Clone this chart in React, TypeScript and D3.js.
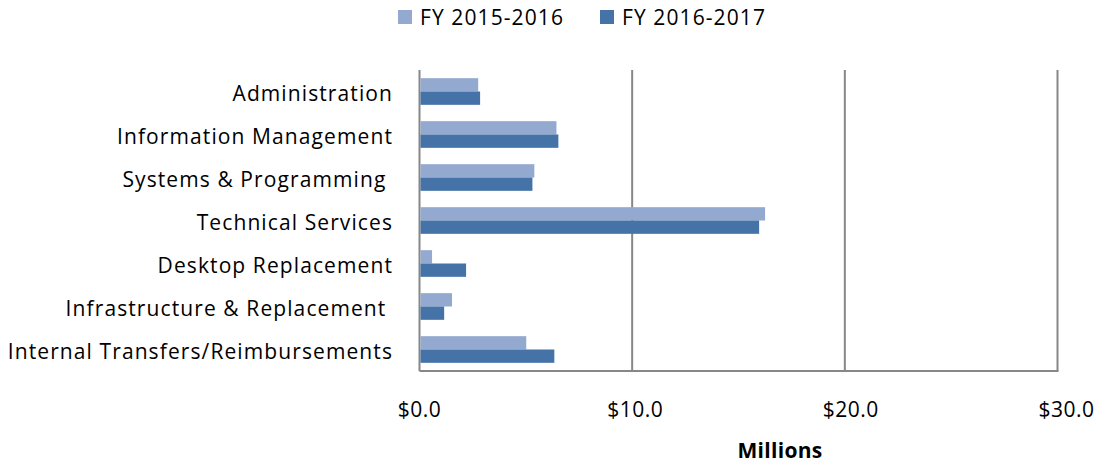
import React from 'react'
import * as d3 from 'd3';

// data (millions of dollars)
const categories = [
  "Administration",
  "Information Management",
  "Systems & Programming ",
  "Technical Services",
  "Desktop Replacement",
  "Infrastructure & Replacement ",
  "Internal Transfers/Reimbursements",
];
const seriesNames = ["FY 2015-2016", "FY 2016-2017"];
const fy2016 = [2.76, 6.44, 5.40, 16.25, 0.59, 1.53, 5.02];
const fy2017 = [2.85, 6.53, 5.31, 15.97, 2.19, 1.16, 6.34];
const ticks = [0, 10, 20, 30];
const colors = ["#94A9D0", "#4573A8"];

const W = 1095;
const H = 466;
const FONT = "'Open Sans', 'Noto Sans', sans-serif";

function App() {
  const left = 419.5;
  const right = 1057.5;
  const top = 70;
  const bottom = 371;

  const x = d3.scaleLinear().domain([0, 30]).range([left, right]);
  const y = d3.scaleBand().domain(categories).range([top, bottom]).paddingInner(0.38).paddingOuter(0.19);
  const sub = d3.scaleBand().domain(seriesNames).range([0, y.bandwidth()]);
  const series = [fy2016, fy2017];

  return (
    <svg width={W} height={H} style={{ position: "absolute", left: 0, top: 0 }} fontFamily={FONT}>
      {/* legend */}
      {seriesNames.map((s, i) => (
        <g key={s} transform={`translate(${[398, 600][i]},10)`}>
          <rect width={14} height={14} fill={colors[i]} />
          <text x={22} y={9} fontSize={21} fill="#000" dominantBaseline="middle" style={{ letterSpacing: "1.1px" }}>{s}</text>
        </g>
      ))}

      {/* gridlines */}
      {ticks.slice(1).map(t => (
        <line key={t} x1={x(t)} x2={x(t)} y1={top} y2={bottom} stroke="#878787" strokeWidth={2} />
      ))}
      {/* axes */}
      <line x1={left} x2={left} y1={top} y2={bottom} stroke="#878787" strokeWidth={2} />
      <line x1={left} x2={right + 1} y1={bottom} y2={bottom} stroke="#878787" strokeWidth={2} />

      {/* bars */}
      {series.map((vals, si) => vals.map((v, ci) => (
        <rect key={`${si}-${ci}`}
          x={x(0) + 1}
          y={(y(categories[ci]) as number) + (sub(seriesNames[si]) as number)}
          width={x(v) - x(0) - 1}
          height={sub.bandwidth()}
          fill={colors[si]} />
      )))}

      {/* category labels */}
      {categories.map(c => (
        <text key={c} x={393} y={(y(c) as number) + y.bandwidth() / 2 + 3.5} textAnchor="end"
          dominantBaseline="middle" fontSize={21} fill="#000" style={{ whiteSpace: "pre", letterSpacing: "1.1px" }}>{c}</text>
      ))}

      {/* tick labels */}
      {ticks.map(t => (
        <text key={t} x={x(t) + t * 0.3} y={411} textAnchor="middle" dominantBaseline="middle" fontSize={21} fill="#000" style={{ letterSpacing: "0.5px" }}>
          {`$${d3.format(".1f")(t)}`}
        </text>
      ))}

      <text x={780} y={452} textAnchor="middle" dominantBaseline="middle" fontSize={21} fontWeight="bold" fill="#000" style={{ letterSpacing: "0.3px" }}>Millions</text>
    </svg>
  )
}

export default App
